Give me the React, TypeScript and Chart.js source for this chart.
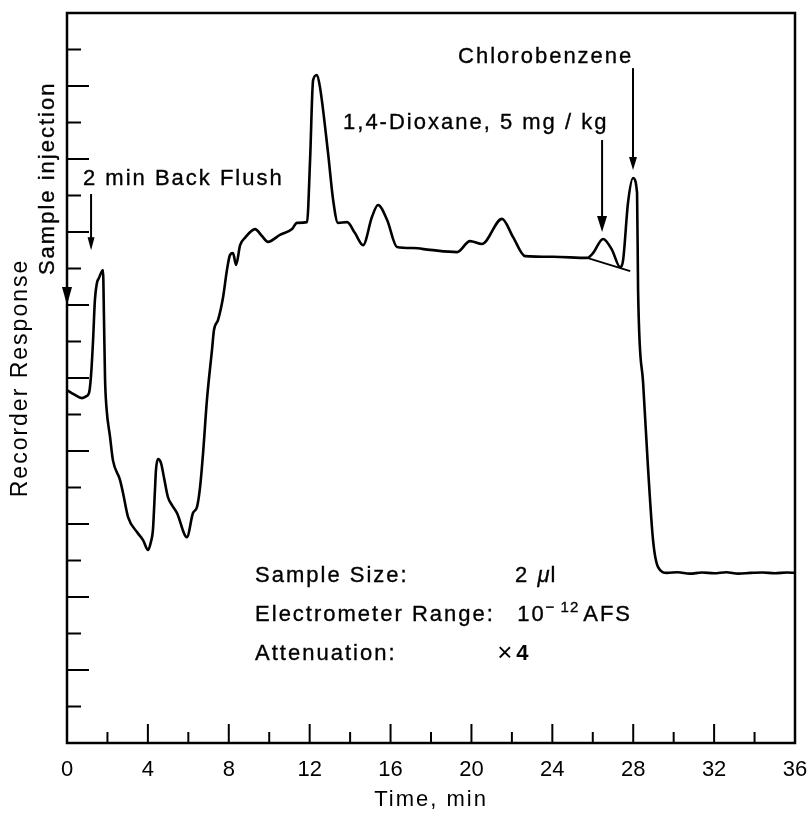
import React, { useEffect, useRef } from "react";
import { Chart, registerables } from "chart.js";

Chart.register(...registerables);

// ---- Data ----
const timeMin = [
  0.0, 0.35, 0.74, 0.95, 1.09, 1.19, 1.29, 1.38, 1.48, 1.58, 1.78, 1.83, 1.88, 1.95,
  2.13, 2.27, 2.62, 2.77, 3.02, 3.46, 3.76, 4.01, 4.15, 4.25, 4.35, 4.4, 4.5, 4.65,
  4.8, 4.99, 5.19, 5.44, 5.93, 6.23, 6.43, 6.58, 6.73, 6.92, 7.17, 7.27, 7.47, 7.72,
  7.91, 8.06, 8.21, 8.36, 8.56, 8.8, 9.3, 9.64, 9.94, 10.53, 11.13, 11.37, 11.87,
  12.02, 12.17, 12.36, 12.51, 12.91, 13.16, 13.4, 13.85, 14.24, 14.64, 15.08, 15.38,
  15.83, 16.32, 17.11, 17.95, 19.29, 19.93, 20.52, 21.51, 22.06, 22.65, 24.04, 25.72,
  26.01, 26.51, 26.95, 27.35, 27.5, 27.74, 27.99, 28.19, 28.24, 28.49, 28.73, 28.98,
  29.23, 29.67, 30.2, 30.8, 31.4, 32.0, 32.6, 33.2, 33.8, 34.4, 35.0, 35.6, 36.0,
];
const response = [
  9.67, 9.55, 9.45, 9.5, 9.59, 10.08, 11.04, 12.14, 12.6, 12.74, 12.96, 11.6, 10.0, 9.2,
  8.38, 7.75, 7.21, 6.85, 6.19, 5.78, 5.56, 5.29, 5.51, 5.84, 6.93, 7.48, 7.78, 7.67,
  7.26, 6.74, 6.52, 6.3, 5.64, 6.3, 6.47, 7.01, 7.95, 9.4, 10.77, 11.32, 11.59, 12.22,
  12.96, 13.37, 13.42, 13.1, 13.64, 13.84, 14.08, 13.89, 13.73, 13.92, 14.08, 14.25, 14.27,
  15.97, 18.16, 18.3, 17.97, 16.16, 14.88, 14.25, 14.27, 13.97, 13.64, 14.41, 14.74,
  14.33, 13.59, 13.56, 13.51, 13.45, 13.75, 13.67, 14.36, 13.86, 13.34, 13.32, 13.29,
  13.42, 13.81, 13.51, 13.04, 13.23, 14.79, 15.48, 15.07, 12.41, 9.86, 7.56, 5.56,
  4.82, 4.66, 4.68, 4.64, 4.67, 4.65, 4.68, 4.64, 4.66, 4.67, 4.65, 4.67, 4.66,
];
// drawn baseline under the 1,4-dioxane peak
const baselineTime = [25.72, 27.85];
const baselineResp = [13.29, 12.93];

const xMin = 0;
const xMax = 36;
const xLabelStep = 4;
const xMinorTicks = [2, 6, 10, 14, 18, 22, 26, 30, 34];
const xMajorTicks = [4, 8, 12, 16, 20, 24, 28, 32];
const yMin = 0;
const yMax = 20;
const yTicks = [1, 2, 3, 4, 5, 6, 7, 8, 9, 10, 11, 12, 13, 14, 15, 16, 17, 18, 19];

const xTitle = "Time, min";
const yTitle = "Recorder Response";
const infoLabels = ["Sample Size:", "Electrometer Range:", "Attenuation:"];

const FONT = '"Liberation Sans", Arial, Helvetica, sans-serif';

function arrowDown(ctx: CanvasRenderingContext2D, x: number, y0: number, y1: number, head: number, half: number) {
  ctx.beginPath();
  ctx.moveTo(x, y0);
  ctx.lineTo(x, y1 - head + 2);
  ctx.stroke();
  ctx.beginPath();
  ctx.moveTo(x, y1);
  ctx.lineTo(x - half, y1 - head);
  ctx.lineTo(x + half, y1 - head);
  ctx.closePath();
  ctx.fill();
}

function heavyText(ctx: CanvasRenderingContext2D, t: string, x: number, y: number) {
  ctx.fillText(t, x, y);
  ctx.strokeText(t, x, y);
}

const decorPlugin = {
  id: "decor",
  beforeDraw(chart: any) {
    chart.ctx.letterSpacing = "2px";
  },
  afterDatasetsDraw(chart: any) {
    chart.ctx.letterSpacing = "0px";
  },
  afterDraw(chart: any) {
    const { ctx, chartArea: ca } = chart;
    const x = chart.scales.x;
    const y = chart.scales.y;
    const px = (v: number) => x.getPixelForValue(v);
    const py = (v: number) => y.getPixelForValue(v);
    ctx.save();
    ctx.strokeStyle = "#000";
    ctx.fillStyle = "#000";
    ctx.lineCap = "butt";

    // frame
    ctx.lineWidth = 2.5;
    ctx.strokeRect(ca.left, ca.top, ca.right - ca.left, ca.bottom - ca.top);

    // inward tick marks
    ctx.lineWidth = 2;
    yTicks.forEach((v) => {
      const yy = py(v);
      const len = v % 2 === 0 ? 22 : 14;
      ctx.beginPath();
      ctx.moveTo(ca.left, yy);
      ctx.lineTo(ca.left + len, yy);
      ctx.stroke();
    });
    xMajorTicks.forEach((v) => {
      const xx = px(v);
      ctx.beginPath();
      ctx.moveTo(xx, ca.bottom);
      ctx.lineTo(xx, ca.bottom - 19);
      ctx.stroke();
    });
    xMinorTicks.forEach((v) => {
      const xx = px(v);
      ctx.beginPath();
      ctx.moveTo(xx, ca.bottom);
      ctx.lineTo(xx, ca.bottom - 11);
      ctx.stroke();
    });

    // arrows
    ctx.lineWidth = 2;
    {
      const tx = px(0);
      const ty = py(12.0);
      ctx.beginPath();
      ctx.moveTo(tx, ty);
      ctx.lineTo(tx - 5, ty - 18);
      ctx.lineTo(tx + 5, ty - 18);
      ctx.closePath();
      ctx.fill();
    }
    arrowDown(ctx, px(1.19), py(15.04), py(13.5), 13, 3.5);
    arrowDown(ctx, px(26.46), py(16.52), py(14.0), 16, 5);
    arrowDown(ctx, px(27.99), py(18.49), py(15.7), 13, 4);

    // annotation texts
    ctx.lineWidth = 0.35;
    ctx.letterSpacing = "2px";
    ctx.font = `22px ${FONT}`;
    ctx.textAlign = "left";
    ctx.textBaseline = "alphabetic";
    heavyText(ctx, "2 min Back Flush", px(0.79), py(15.29));
    heavyText(ctx, "1,4-Dioxane, 5 mg / kg", px(13.65), py(16.82));
    heavyText(ctx, "Chlorobenzene", px(19.34), py(18.63));

    ctx.save();
    ctx.translate(px(-0.94), py(15.47));
    ctx.rotate(-Math.PI / 2);
    ctx.textAlign = "center";
    ctx.textBaseline = "middle";
    heavyText(ctx, "Sample injection", 0, 0);
    ctx.restore();

    // info block
    const lx = px(9.3);
    const rows = [py(4.41), py(3.34), py(2.27)];
    infoLabels.forEach((t, i) => heavyText(ctx, t, lx, rows[i]));

    let cx = px(22.16);
    heavyText(ctx, "2 ", cx, rows[0]);
    cx += ctx.measureText("2 ").width;
    ctx.font = `italic 22px ${FONT}`;
    heavyText(ctx, "μ", cx, rows[0]);
    cx += ctx.measureText("μ").width - 1;
    ctx.font = `22px ${FONT}`;
    heavyText(ctx, "l", cx, rows[0]);

    cx = px(22.26);
    heavyText(ctx, "10", cx, rows[1]);
    cx += ctx.measureText("10").width;
    ctx.font = `15px ${FONT}`;
    ctx.letterSpacing = "1px";
    heavyText(ctx, "− 12", cx, rows[1] - 9);
    cx += ctx.measureText("− 12").width + 4;
    ctx.letterSpacing = "2px";
    ctx.font = `22px ${FONT}`;
    heavyText(ctx, "AFS", cx, rows[1]);

    cx = px(21.27);
    ctx.font = `26px ${FONT}`;
    ctx.letterSpacing = "0px";
    ctx.fillText("×", cx, rows[2] + 1);
    cx += ctx.measureText("×").width + 4;
    ctx.font = `bold 22px ${FONT}`;
    ctx.fillText("4", cx, rows[2]);

    ctx.restore();
  },
};

export default function App() {
  const canvasRef = useRef<HTMLCanvasElement | null>(null);

  useEffect(() => {
    const canvas = canvasRef.current;
    if (!canvas) return;
    const mainData = timeMin.map((t, i) => ({ x: t, y: response[i] }));
    const baseData = baselineTime.map((t, i) => ({ x: t, y: baselineResp[i] }));
    const chart = new Chart(canvas, {
      type: "line",
      data: {
        datasets: [
          {
            data: mainData,
            borderColor: "#000",
            borderWidth: 2.6,
            pointRadius: 0,
            fill: false,
            cubicInterpolationMode: "monotone",
          },
          {
            data: baseData,
            borderColor: "#000",
            borderWidth: 1.8,
            pointRadius: 0,
            fill: false,
          },
        ],
      },
      options: {
        responsive: false,
        animation: false,
        devicePixelRatio: 1,
        layout: { padding: { top: 13, right: 17, left: 0, bottom: 0 } },
        plugins: {
          legend: { display: false },
          tooltip: { enabled: false },
        },
        scales: {
          x: {
            type: "linear",
            min: xMin,
            max: xMax,
            ticks: {
              stepSize: xLabelStep,
              color: "#000",
              font: { family: FONT, size: 22 },
              padding: 14,
              z: 1,
              maxRotation: 0,
              autoSkip: false,
            },
            grid: { display: false, drawTicks: false },
            border: { display: false },
            title: {
              display: true,
              text: xTitle,
              color: "#000",
              font: { family: FONT, size: 22 },
              padding: { top: 0, bottom: 1 },
            },
            afterFit: (s: any) => {
              s.height = 71;
              s.paddingLeft = 0;
              s.paddingRight = 0;
            },
          },
          y: {
            type: "linear",
            min: yMin,
            max: yMax,
            ticks: { display: false },
            grid: { display: false, drawTicks: false },
            border: { display: false },
            title: {
              display: true,
              text: yTitle,
              color: "#000",
              font: { family: FONT, size: 23 },
              padding: { top: 7, bottom: 0 },
            },
            afterFit: (s: any) => {
              s.width = 67;
              s.paddingTop = 0;
              s.paddingBottom = 0;
            },
          },
        },
      } as any,
      plugins: [decorPlugin],
    });
    return () => chart.destroy();
  }, []);

  return (
    <div style={{ position: "absolute", left: 0, top: 0, width: 812, height: 814, background: "#fff" }}>
      <canvas ref={canvasRef} width={812} height={814} style={{ display: "block" }} />
    </div>
  );
}
